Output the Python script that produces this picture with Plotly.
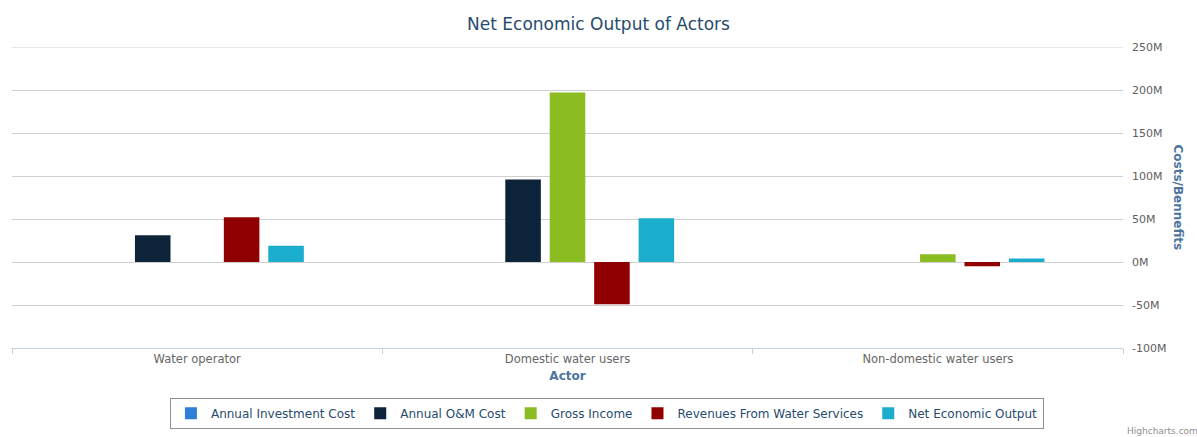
import plotly.graph_objects as go

actors = ["Water operator", "Domestic water users", "Non-domestic water users"]

investment_cost = [0, 0, 0]
om_cost = [31, 96, 0]
gross_income = [0, 197, 9]
revenues_water = [52, -49, -5]
net_output = [19, 51, 4]

series = [
    ("Annual Investment Cost", investment_cost, "#2f7ed8"),
    ("Annual O&M Cost", om_cost, "#0d233a"),
    ("Gross Income", gross_income, "#8bbc21"),
    ("Revenues From Water Services", revenues_water, "#910000"),
    ("Net Economic Output", net_output, "#1aadce"),
]

y_ticks = [-100, -50, 0, 50, 100, 150, 200, 250]
y_tick_labels = [f"{v}M" for v in y_ticks]

FONT = "DejaVu Sans"
GRID = "#CFCFCF"

fig = go.Figure()
for name, vals, color in series:
    fig.add_trace(go.Bar(name=name, x=actors, y=vals, marker_color=color,
                         marker_line_width=0))

# top grid line at the axis maximum
fig.add_shape(type="line", xref="paper", yref="y", x0=0, x1=1,
              y0=y_ticks[-1], y1=y_ticks[-1],
              line=dict(color=GRID, width=1), layer="below")

fig.update_layout(
    width=1197, height=437,
    margin=dict(l=12, r=74, t=47, b=89, autoexpand=False),
    paper_bgcolor="white", plot_bgcolor="white",
    font=dict(family=FONT, color="#606060", size=11),
    barmode="group", bargap=0.4, bargroupgap=0.2,
    title=dict(text="Net Economic Output of Actors", x=0.5, xanchor="center",
               y=0.945, yanchor="middle",
               font=dict(family=FONT, size=17, color="#274b6d")),
    xaxis=dict(
        showgrid=False, showline=True, linecolor="#C0D0E0", linewidth=1,
        ticks="outside", ticklen=5, tickcolor="#C0D0E0", tickson="boundaries",
        tickfont=dict(size=11.5, color="#666666"),
        title=dict(text="<b>Actor</b>", standoff=6,
                   font=dict(size=12, color="#4d759e")),
    ),
    yaxis=dict(
        side="right", range=[-100, 250], tickvals=y_ticks, ticktext=y_tick_labels,
        showgrid=True, gridcolor=GRID, gridwidth=1,
        zeroline=True, zerolinecolor=GRID, zerolinewidth=1,
        showline=False, ticks="", tickfont=dict(size=11, color="#606060"),
        ticklabelstandoff=8,
    ),
    legend=dict(
        orientation="h", x=0.5355, xanchor="center", y=-0.165, yanchor="top",
        bordercolor="#909090", borderwidth=1, bgcolor="white",
        font=dict(size=12, color="#274b6d"), itemwidth=30,
        traceorder="normal",
    ),
    annotations=[
        dict(text="<b>Costs/Bennefits</b>", textangle=90, xref="paper", yref="paper",
             x=1.0, xshift=64, y=0.5, showarrow=False,
             font=dict(size=12, color="#4d759e")),
        dict(text="Highcharts.com", xref="paper", yref="paper", x=1.0, y=0,
             xanchor="left", yanchor="top", xshift=2, yshift=-76, showarrow=False,
             font=dict(size=9, color="#909090")),
    ],
)

fig.write_html("out.html")
